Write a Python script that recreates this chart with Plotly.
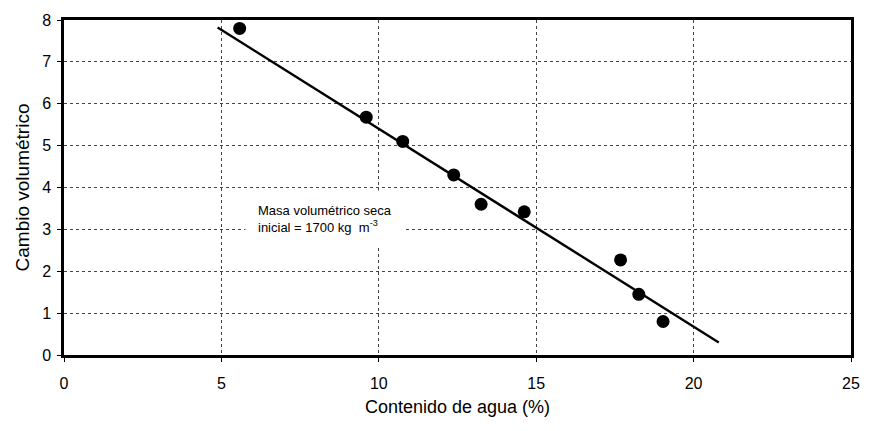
import plotly.graph_objects as go

# Data
contenido_agua = [5.58, 9.6, 10.76, 12.38, 13.25, 14.62, 17.68, 18.26, 19.03]
cambio_vol = [7.8, 5.68, 5.1, 4.3, 3.6, 3.42, 2.27, 1.45, 0.8]
linea_x = [4.88, 20.8]
linea_y = [7.82, 0.3]
x_ticks = [0, 5, 10, 15, 20, 25]
y_ticks = [0, 1, 2, 3, 4, 5, 6, 7, 8]

font_main = "Liberation Sans, Arial, sans-serif"

fig = go.Figure()
fig.add_trace(go.Scatter(x=linea_x, y=linea_y, mode="lines",
                         line=dict(color="black", width=2.4), showlegend=False))
fig.add_trace(go.Scatter(x=contenido_agua, y=cambio_vol, mode="markers",
                         marker=dict(color="black", size=13), showlegend=False))

fig.add_annotation(x=5.74, y=3.94, xref="x", yref="y", xanchor="left", yanchor="top",
                   text="Masa volumétrico seca<br>inicial = 1700 kg  m<sup>-3</sup>",
                   showarrow=False, align="left", bgcolor="white", borderpad=12,
                   font=dict(family=font_main, size=13, color="black"))

fig.update_layout(
    width=872, height=431,
    margin=dict(l=64, r=16, t=16, b=76),
    paper_bgcolor="white", plot_bgcolor="white",
    font=dict(family=font_main, color="black"),
    xaxis=dict(range=[0, 25], tickvals=x_ticks, showgrid=True,
               gridcolor="#444", griddash="dot", gridwidth=1,
               showline=True, linecolor="black", linewidth=2.5, mirror=True,
               ticks="outside", ticklen=4, tickcolor="black",
               ticklabelstandoff=8,
               tickfont=dict(size=16), zeroline=False,
               title=dict(text="Contenido de agua (%)", font=dict(size=18), standoff=10)),
    yaxis=dict(range=[0, 8], tickvals=y_ticks, showgrid=True,
               gridcolor="#444", griddash="dot", gridwidth=1,
               showline=True, linecolor="black", linewidth=2.5, mirror=True,
               ticks="outside", ticklen=4, tickcolor="black",
               ticklabelstandoff=3,
               tickfont=dict(size=16), zeroline=False,
               title=dict(text="Cambio volumétrico", font=dict(size=19), standoff=8)),
)

fig.write_html("out.html")
